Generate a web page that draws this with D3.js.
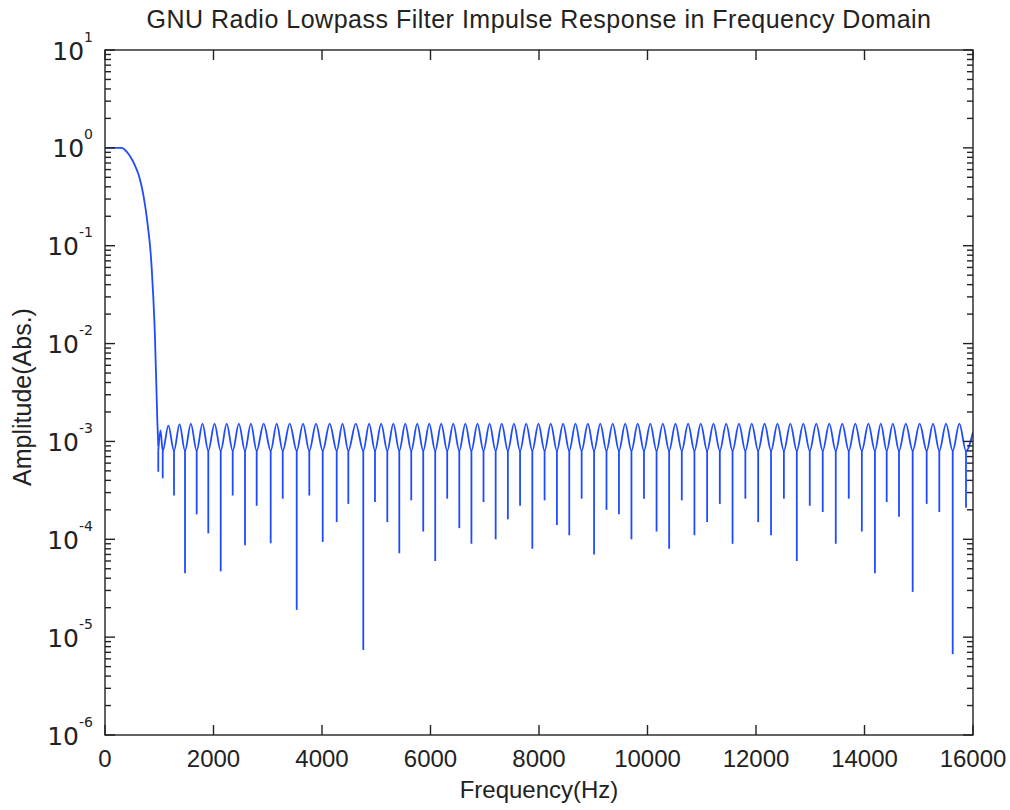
<!DOCTYPE html>
<html>
<head>
<meta charset="utf-8">
<script src="https://cdn.jsdelivr.net/npm/d3@7/dist/d3.min.js"></script>
<style>
  body { margin: 0; background: #fff; }
  text { font-family: "Liberation Sans", Arial, sans-serif; fill: #222; }
</style>
</head>
<body>
<svg id="chart" width="1010" height="810"></svg>
<script>
// passband part of the response (Hz, |H|)
let passHz  = [0, 150, 310, 369, 430, 492, 553, 615, 677, 738, 798, 830, 860, 890, 920, 945, 965, 982];
let passAmp = [1, 1, 1, 0.95, 0.87, 0.77, 0.66, 0.54, 0.4, 0.26, 0.145, 0.1, 0.06, 0.03, 0.012, 0.004, 0.0016, 0.0009];

// stopband ripple: dip positions and dip depths
let nullHz = [
  982, 1064, 1272, 1475, 1690, 1904, 2133, 2354, 2581, 2796, 3054, 3276, 3534, 3766, 4013, 4271, 4485, 4761, 4977, 5204, 5425,
  5645, 5866, 6087, 6308, 6531, 6754, 6977, 7201, 7426, 7651, 7877, 8103, 8330, 8558, 8786, 9015, 9244, 9474, 9704,
  9935, 10167, 10399, 10632, 10865, 11099, 11333, 11568, 11804, 12040, 12277, 12514, 12752, 12991, 13230, 13470, 13710, 13951, 14192,
  14409, 14636, 14888, 15146, 15379, 15626, 15871
];
let nullAmp = [
  4.9e-4, 4.2e-4, 2.8e-4, 4.5e-5, 1.8e-4, 1.15e-4, 4.7e-5, 2.8e-4, 8.7e-5, 2.2e-4, 9.1e-5, 2.6e-4, 1.9e-5, 2.8e-4, 9.4e-5, 1.5e-4, 2.3e-4, 7.4e-6, 2.4e-4, 1.5e-4, 7.2e-5,
  2.5e-4, 1.2e-4, 6e-5, 2.6e-4, 1.3e-4, 9e-5, 2.4e-4, 1e-4, 1.6e-4, 2.2e-4, 8e-5, 2.5e-4, 1.4e-4, 1.1e-4, 2.6e-4, 7e-5, 2e-4, 1.8e-4, 1e-4,
  2.6e-4, 1.2e-4, 8e-5, 2.5e-4, 1.1e-4, 1.5e-4, 2.3e-4, 9e-5, 2.6e-4, 1.5e-4, 1.1e-4, 2.6e-4, 6e-5, 2.2e-4, 1.9e-4, 9e-5, 2.6e-4, 1.2e-4, 4.5e-5,
  2.4e-4, 1.7e-4, 2.9e-5, 2.3e-4, 1.9e-4, 6.7e-6, 2.1e-4
];
// lobe tops between consecutive dips
let peakAmp = [
  1.3e-3, 1.45e-3, 1.5e-3, 1.52e-3, 1.52e-3, 1.52e-3, 1.52e-3, 1.52e-3, 1.52e-3, 1.52e-3, 1.52e-3, 1.52e-3, 1.52e-3, 1.52e-3, 1.52e-3, 1.52e-3, 1.52e-3, 1.52e-3, 1.52e-3, 1.52e-3,
  1.52e-3, 1.52e-3, 1.52e-3, 1.52e-3, 1.52e-3, 1.52e-3, 1.52e-3, 1.52e-3, 1.52e-3, 1.52e-3, 1.52e-3, 1.52e-3, 1.52e-3, 1.52e-3, 1.52e-3, 1.52e-3, 1.52e-3, 1.52e-3, 1.52e-3, 1.52e-3,
  1.52e-3, 1.52e-3, 1.52e-3, 1.52e-3, 1.52e-3, 1.52e-3, 1.52e-3, 1.52e-3, 1.52e-3, 1.52e-3, 1.52e-3, 1.52e-3, 1.52e-3, 1.52e-3, 1.52e-3, 1.52e-3, 1.52e-3, 1.52e-3, 1.52e-3, 1.52e-3,
  1.52e-3, 1.52e-3, 1.52e-3, 1.52e-3, 1.52e-3
];
let rimAmp = 0.8e-3;           // level where the dips leave the lobes
let tailHz = 16000, tailAmp = 1.25e-3;

let xTicks = [0, 2000, 4000, 6000, 8000, 10000, 12000, 14000, 16000];
let yDecades = [1, 0, -1, -2, -3, -4, -5, -6];

let svg = d3.select('#chart');
let plotLeft = 105, plotRight = 973, plotTop = 50, plotBottom = 735;

let x = d3.scaleLinear().domain([0, 16000]).range([plotLeft, plotRight]);
let y = d3.scaleLog().domain([1e-6, 10]).range([plotBottom, plotTop]);

svg.append('rect').attr('width', 1010).attr('height', 810).attr('fill', '#fff');

svg.append('clipPath').attr('id', 'clip')
  .append('rect').attr('x', plotLeft).attr('y', plotTop)
  .attr('width', plotRight - plotLeft).attr('height', plotBottom - plotTop);

let plot = svg.append('g').attr('clip-path', 'url(#clip)');
let lineColor = '#1f4bff';

let curve = d3.line().x(d => x(d[0])).y(d => y(d[1])).curve(d3.curveMonotoneX);

// passband
plot.append('path')
  .attr('d', curve(passHz.map((f, i) => [f, passAmp[i]])))
  .attr('fill', 'none').attr('stroke', lineColor).attr('stroke-width', 1.8);

// lobes
let arch = [];
nullHz.forEach((f, i) => {
  arch.push([f, rimAmp]);
  if (i < nullHz.length - 1) arch.push([(f + nullHz[i + 1]) / 2, peakAmp[i]]);
});
arch.push([tailHz, tailAmp]);
plot.append('path')
  .attr('d', curve(arch))
  .attr('fill', 'none').attr('stroke', lineColor).attr('stroke-width', 1.8);

// dips
plot.selectAll('line.dip')
  .data(nullHz)
  .enter()
  .append('line')
  .attr('class', 'dip')
  .attr('x1', d => x(d)).attr('x2', d => x(d))
  .attr('y1', y(rimAmp))
  .attr('y2', (d, i) => y(nullAmp[i]))
  .attr('stroke', lineColor).attr('stroke-width', 1.8);

// axes box and ticks
let axisColor = '#222';
let ax = svg.append('g').attr('stroke', axisColor).attr('stroke-width', 1.4).attr('fill', 'none');
ax.append('rect').attr('x', plotLeft).attr('y', plotTop)
  .attr('width', plotRight - plotLeft).attr('height', plotBottom - plotTop);

xTicks.forEach(t => {
  ax.append('line').attr('x1', x(t)).attr('x2', x(t)).attr('y1', plotBottom).attr('y2', plotBottom - 10);
  ax.append('line').attr('x1', x(t)).attr('x2', x(t)).attr('y1', plotTop).attr('y2', plotTop + 10);
});

yDecades.forEach(e => {
  let yy = y(Math.pow(10, e));
  ax.append('line').attr('x1', plotLeft).attr('x2', plotLeft + 10).attr('y1', yy).attr('y2', yy);
  ax.append('line').attr('x1', plotRight).attr('x2', plotRight - 10).attr('y1', yy).attr('y2', yy);
  if (e > -6) {
    for (let m = 2; m <= 9; m++) {
      let ym = y(m * Math.pow(10, e - 1));
      ax.append('line').attr('x1', plotLeft).attr('x2', plotLeft + 6).attr('y1', ym).attr('y2', ym);
      ax.append('line').attr('x1', plotRight).attr('x2', plotRight - 6).attr('y1', ym).attr('y2', ym);
    }
  }
});

// tick labels
svg.selectAll('text.xt')
  .data(xTicks)
  .enter()
  .append('text')
  .attr('class', 'xt')
  .attr('x', d => x(d))
  .attr('y', 767)
  .attr('text-anchor', 'middle')
  .attr('font-size', 24)
  .text(d => d);

let yt = svg.selectAll('text.yt')
  .data(yDecades)
  .enter()
  .append('text')
  .attr('class', 'yt')
  .attr('x', 93)
  .attr('y', d => y(Math.pow(10, d)) + 9.5)
  .attr('text-anchor', 'end')
  .style('font-family', '"DejaVu Sans", sans-serif');
yt.append('tspan').attr('font-size', 25).text('10');
yt.append('tspan').attr('font-size', 14).attr('dy', -18).text(d => d);

// titles
svg.append('text')
  .attr('x', (plotLeft + plotRight) / 2).attr('y', 28)
  .attr('text-anchor', 'middle').attr('font-size', 25)
  .attr('letter-spacing', 0.5)
  .text('GNU Radio Lowpass Filter Impulse Response in Frequency Domain');

svg.append('text')
  .attr('x', (plotLeft + plotRight) / 2).attr('y', 798)
  .attr('text-anchor', 'middle').attr('font-size', 24)
  .text('Frequency(Hz)');

svg.append('text')
  .attr('transform', 'translate(31,397) rotate(-90)')
  .attr('text-anchor', 'middle').attr('font-size', 25)
  .text('Amplitude(Abs.)');
</script>
</body>
</html>
